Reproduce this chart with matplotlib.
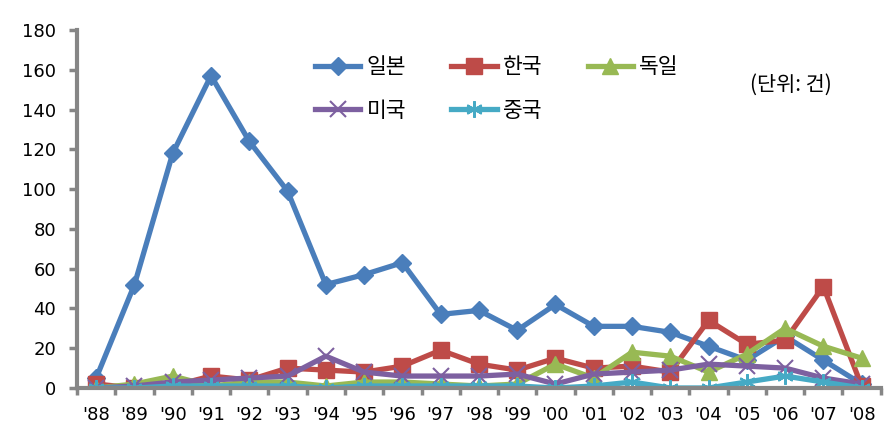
import numpy as np
import matplotlib
matplotlib.use("Agg")
import matplotlib.pyplot as plt
from matplotlib.ticker import MultipleLocator, FixedLocator

plt.rcParams['font.family'] = ['DejaVu Sans', 'Noto Sans CJK KR']

years = ["'88", "'89", "'90", "'91", "'92", "'93", "'94", "'95", "'96", "'97", "'98",
         "'99", "'00", "'01", "'02", "'03", "'04", "'05", "'06", "'07", "'08"]
japan = [5, 52, 118, 157, 124, 99, 52, 57, 63, 37, 39, 29, 42, 31, 31, 28, 21, 14, 26, 14, 2]
korea = [2, 0, 1, 6, 4, 10, 9, 8, 11, 19, 12, 9, 15, 10, 11, 8, 34, 22, 24, 51, 1]
germany = [0, 2, 6, 1, 3, 3, 1, 3, 3, 2, 1, 2, 12, 5, 18, 16, 8, 17, 30, 21, 15]
usa = [0, 1, 3, 4, 5, 6, 16, 8, 6, 6, 6, 7, 2, 7, 8, 9, 12, 11, 10, 5, 2]
china = [0, 0, 1, 1, 1, 1, 0, 1, 1, 1, 1, 1, 0, 1, 3, 0, 0, 3, 6, 3, 0]

x = np.arange(len(years))

fig = plt.figure(figsize=(8.96, 4.47), dpi=100)
ax = fig.add_axes([0.086, 0.132, 0.897, 0.801])

lw = 3.8
h_jp, = ax.plot(x, japan, color='#4A7EBB', lw=lw, marker='D', ms=9, label='일본')
h_kr, = ax.plot(x, korea, color='#BE4B48', lw=lw, marker='s', ms=11, label='한국')
h_de, = ax.plot(x, germany, color='#98B954', lw=lw, marker='^', ms=12, label='독일')
h_us, = ax.plot(x, usa, color='#7D60A0', lw=lw, marker='x', ms=11, mew=1.5, label='미국')
h_cn, = ax.plot(x, china, color='#46AAC5', lw=lw, marker=(6, 2, 0), ms=12, mew=1.5, label='중국')

ax.set_xlim(-0.5, len(years) - 0.5)
ax.set_ylim(0, 180)
ax.yaxis.set_major_locator(MultipleLocator(20))
ax.set_xticks(x)
ax.set_xticklabels(years)
ax.xaxis.set_minor_locator(FixedLocator(np.arange(-0.5, len(years), 1)))
ax.tick_params(axis='x', which='major', length=0, pad=13, labelsize=13)
ax.tick_params(axis='x', which='minor', length=5, width=2.5, color='#868686')
ax.tick_params(axis='y', length=6, width=2.5, color='#868686', labelsize=13, pad=9)

for s in ['top', 'right']:
    ax.spines[s].set_visible(False)
for s in ['left', 'bottom']:
    ax.spines[s].set_color('#868686')
    ax.spines[s].set_linewidth(3)

leg = ax.legend([h_jp, h_us, h_kr, h_cn, h_de], ['일본', '미국', '한국', '중국', '독일'],
                ncol=3, frameon=False, loc='upper left', bbox_to_anchor=(0.272, 0.98),
                prop={'family': ['Noto Sans CJK KR'], 'size': 15.5},
                handlelength=2.1, columnspacing=2.1, labelspacing=1.0, handletextpad=0.3,
                numpoints=1)

ax.text(0.888, 0.846, '(단위: 건)', transform=ax.transAxes, fontsize=15,
        family=['Noto Sans CJK KR'], ha='center', va='center')

fig.savefig('out.png', dpi=100)
